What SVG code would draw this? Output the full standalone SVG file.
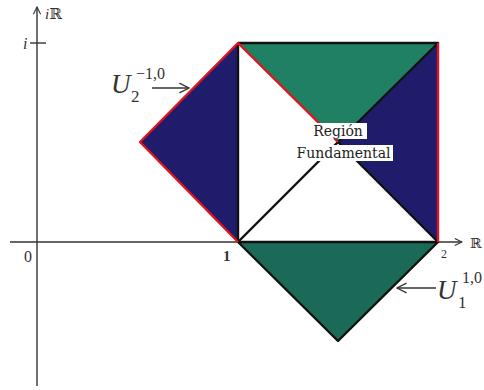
<svg xmlns="http://www.w3.org/2000/svg" width="484" height="390" viewBox="0 0 484 390">
<defs>
<marker id="ah" viewBox="0 0 10 10" refX="9" refY="5" markerWidth="9" markerHeight="9" markerUnits="userSpaceOnUse" orient="auto">
<path d="M1,1 L9,5 L1,9" fill="none" stroke="#333" stroke-width="1.2"/>
</marker>
<marker id="ah2" viewBox="0 0 10 10" refX="9" refY="5" markerWidth="12" markerHeight="12" markerUnits="userSpaceOnUse" orient="auto">
<path d="M1,1 L9,5 L1,9" fill="none" stroke="#333" stroke-width="1.1"/>
</marker>
</defs>
<style>
.t{font-family:"Liberation Serif","DejaVu Serif",serif;fill:#333}
.d{font-family:"DejaVu Serif","Liberation Serif",serif;fill:#222}
.ax{stroke:#333;stroke-width:1.4;fill:none}
.blue{fill:#1f1c6c}
.g1{fill:#1f8063}
.g2{fill:#1b6a57}
.blk{stroke:#111;stroke-width:2.4;fill:none;stroke-linejoin:round}
.red{stroke:#e0141e;stroke-width:2.4;fill:none;stroke-linejoin:round}
.lb{fill:#fff}
</style>
<rect width="484" height="390" fill="#fff"/>
<g id="axes">
<line class="ax" x1="10" y1="242" x2="462" y2="242" marker-end="url(#ah)"/>
<line class="ax" x1="37" y1="386" x2="37" y2="7" marker-end="url(#ah)"/>
<line class="ax" x1="30" y1="43" x2="46" y2="43"/>
<text class="t" x="45" y="19" font-size="15"><tspan font-style="italic">i</tspan>ℝ</text>
<text class="t" x="470" y="248" font-size="14">ℝ</text>
<text class="t" x="23" y="49" font-size="16" font-style="italic">i</text>
<text class="t" x="24" y="262" font-size="16">0</text>
<text class="t" x="223" y="261" font-size="15" font-weight="bold">1</text>
<text class="t" x="441" y="258" font-size="12">2</text>
</g>
<g id="left-blue">
<polygon class="blue" points="238,43 140,142 238,242"/>
</g>
<g id="top-green">
<polygon class="g1" points="238,43 438,43 338,142"/>
</g>
<g id="right-blue">
<polygon class="blue" points="438,43 338,142 438,242"/>
</g>
<g id="bottom-green">
<polygon class="g2" points="238,242 438,242 338,341"/>
</g>
<g id="edges">
<polyline class="blk" points="238,43 238,242"/>
<polyline class="blk" points="238,43 438,43 338,142 438,242"/>
<polyline class="blk" points="238,242 338,142"/>
<polygon class="blk" points="238,242 438,242 338,341"/>
<polyline class="red" points="238,242 140,142 238,43 338,142"/>
<polyline class="red" points="438,43 438,242"/>
</g>
<g id="fundamental-label">
<rect class="lb" x="309" y="123" width="58" height="16"/>
<rect class="lb" x="294" y="145" width="99" height="16"/>
<text class="d" x="338" y="136" font-size="14" text-anchor="middle">Región</text>
<text class="d" x="343.5" y="158" font-size="14" text-anchor="middle">Fundamental</text>
</g>
<g id="label-U2">
<text class="t" x="111" y="93" font-size="27" font-style="italic">U</text>
<text class="t" x="131" y="102" font-size="17">2</text>
<text class="t" x="136" y="79" font-size="16">−1,0</text>
<line class="ax" x1="152" y1="88" x2="189" y2="88" stroke-width="1.1" marker-end="url(#ah2)"/>
</g>
<g id="label-U1">
<text class="t" x="437" y="299" font-size="27" font-style="italic">U</text>
<text class="t" x="458" y="308" font-size="17">1</text>
<text class="t" x="462" y="283" font-size="16">1,0</text>
<line class="ax" x1="436" y1="288" x2="397" y2="288" stroke-width="1.1" marker-end="url(#ah2)"/>
</g>
</svg>
